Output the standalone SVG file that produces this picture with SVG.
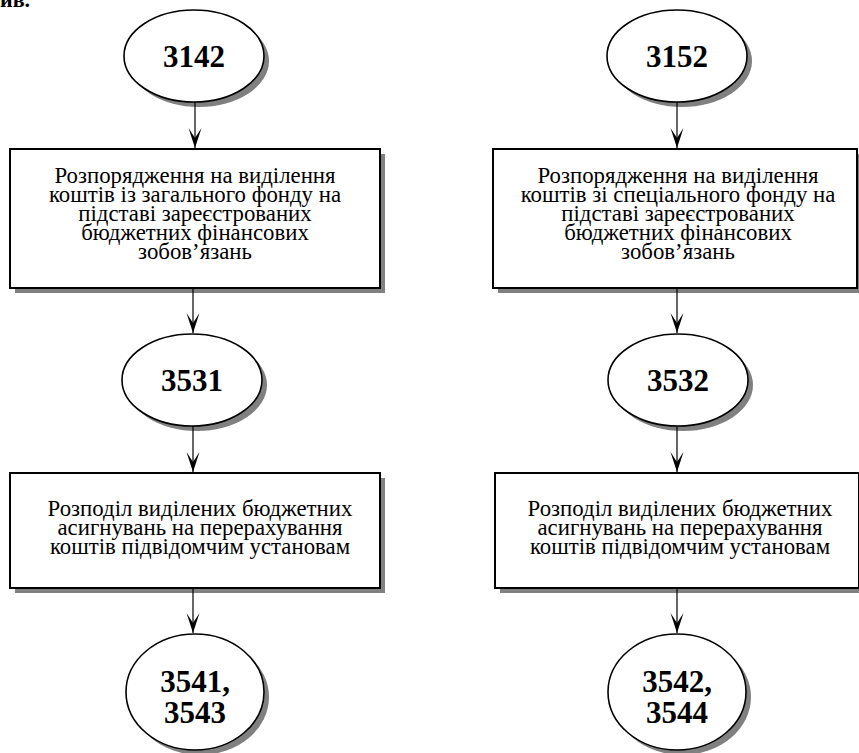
<svg xmlns="http://www.w3.org/2000/svg" width="859" height="753" viewBox="0 0 859 753">
<style>
.bg{fill:#fff}
.box{fill:#fff;stroke:#000;stroke-width:2}
.ell{fill:#fff;stroke:#000;stroke-width:1.6}
.sh{fill:#808080;stroke:none}
.t{font-family:'Liberation Serif','Times New Roman',Times,serif;font-size:22.8px;fill:#000;text-anchor:middle}
.n{font-family:'Liberation Serif','Times New Roman',Times,serif;font-size:31px;font-weight:bold;fill:#000;text-anchor:middle}
.c{stroke:#000;stroke-width:1.2;fill:none;marker-end:url(#ah)}
</style>
<defs>
<marker id="ah" markerUnits="userSpaceOnUse" markerWidth="22" markerHeight="16" viewBox="-21 -8 22 16" refX="0" refY="0" orient="auto">
<path d="M0,0 L-20,-6.5 L-10,0 L-20,6.5 Z" fill="#000"/>
</marker>
</defs>
<rect class="bg" x="0" y="0" width="859" height="753"/>
<text x="0" y="7" style="font-family:'Liberation Serif','Times New Roman',serif;font-size:22px;font-weight:bold">ив.</text>

<g id="n3142">
<ellipse class="sh" cx="199" cy="61" rx="70" ry="46"/>
<ellipse class="ell" cx="194" cy="56" rx="70" ry="46"/>
<text class="n" x="194" y="67">3142</text>
</g>
<g id="n3152">
<ellipse class="sh" cx="682" cy="61" rx="70" ry="46"/>
<ellipse class="ell" cx="677" cy="56" rx="70" ry="46"/>
<text class="n" x="677" y="67">3152</text>
</g>

<g id="boxL1">
<rect class="sh" x="15" y="154" width="370" height="139"/>
<rect class="box" x="10" y="149" width="370" height="139"/>
<text class="t" x="195" y="183">Розпорядження на виділення</text>
<text class="t" x="195" y="202">коштів із загального фонду на</text>
<text class="t" x="195" y="221">підставі зареєстрованих</text>
<text class="t" x="195" y="240">бюджетних фінансових</text>
<text class="t" x="195" y="259">зобов’язань</text>
</g>
<g id="boxR1">
<rect class="sh" x="498" y="154" width="364" height="139"/>
<rect class="box" x="493" y="149" width="364" height="139"/>
<text class="t" x="678" y="183">Розпорядження на виділення</text>
<text class="t" x="678" y="202">коштів зі спеціального фонду на</text>
<text class="t" x="678" y="221">підставі зареєстрованих</text>
<text class="t" x="678" y="240">бюджетних фінансових</text>
<text class="t" x="678" y="259">зобов’язань</text>
</g>

<g id="n3531">
<ellipse class="sh" cx="197" cy="385" rx="70" ry="46"/>
<ellipse class="ell" cx="192" cy="380" rx="70" ry="46"/>
<text class="n" x="192" y="391">3531</text>
</g>
<g id="n3532">
<ellipse class="sh" cx="683" cy="385" rx="70" ry="46"/>
<ellipse class="ell" cx="678" cy="380" rx="70" ry="46"/>
<text class="n" x="678" y="391">3532</text>
</g>

<g id="boxL2">
<rect class="sh" x="15" y="478" width="370" height="115"/>
<rect class="box" x="10" y="473" width="370" height="115"/>
<text class="t" x="200" y="516">Розподіл виділених бюджетних</text>
<text class="t" x="200" y="535">асигнувань на перерахування</text>
<text class="t" x="200" y="554">коштів підвідомчим установам</text>
</g>
<g id="boxR2">
<rect class="sh" x="500" y="478" width="364" height="115"/>
<rect class="box" x="495" y="473" width="364" height="115"/>
<text class="t" x="680" y="516">Розподіл виділених бюджетних</text>
<text class="t" x="680" y="535">асигнувань на перерахування</text>
<text class="t" x="680" y="554">коштів підвідомчим установам</text>
</g>

<g id="n3541">
<ellipse class="sh" cx="200" cy="697" rx="69" ry="58"/>
<ellipse class="ell" cx="195" cy="692" rx="69" ry="58"/>
<text class="n" x="195" y="692">3541,</text>
<text class="n" x="195" y="723">3543</text>
</g>
<g id="n3542">
<ellipse class="sh" cx="682" cy="697" rx="69" ry="58"/>
<ellipse class="ell" cx="677" cy="692" rx="69" ry="58"/>
<text class="n" x="677" y="692">3542,</text>
<text class="n" x="677" y="723">3544</text>
</g>

<g id="connectors">
<line class="c" x1="195" y1="102" x2="195" y2="148"/>
<line class="c" x1="193" y1="288" x2="193" y2="333"/>
<line class="c" x1="193" y1="426" x2="193" y2="472"/>
<line class="c" x1="193" y1="588" x2="193" y2="633"/>
<line class="c" x1="677" y1="102" x2="677" y2="148"/>
<line class="c" x1="677" y1="288" x2="677" y2="333"/>
<line class="c" x1="677" y1="426" x2="677" y2="472"/>
<line class="c" x1="677" y1="588" x2="677" y2="633"/>
</g>
</svg>
